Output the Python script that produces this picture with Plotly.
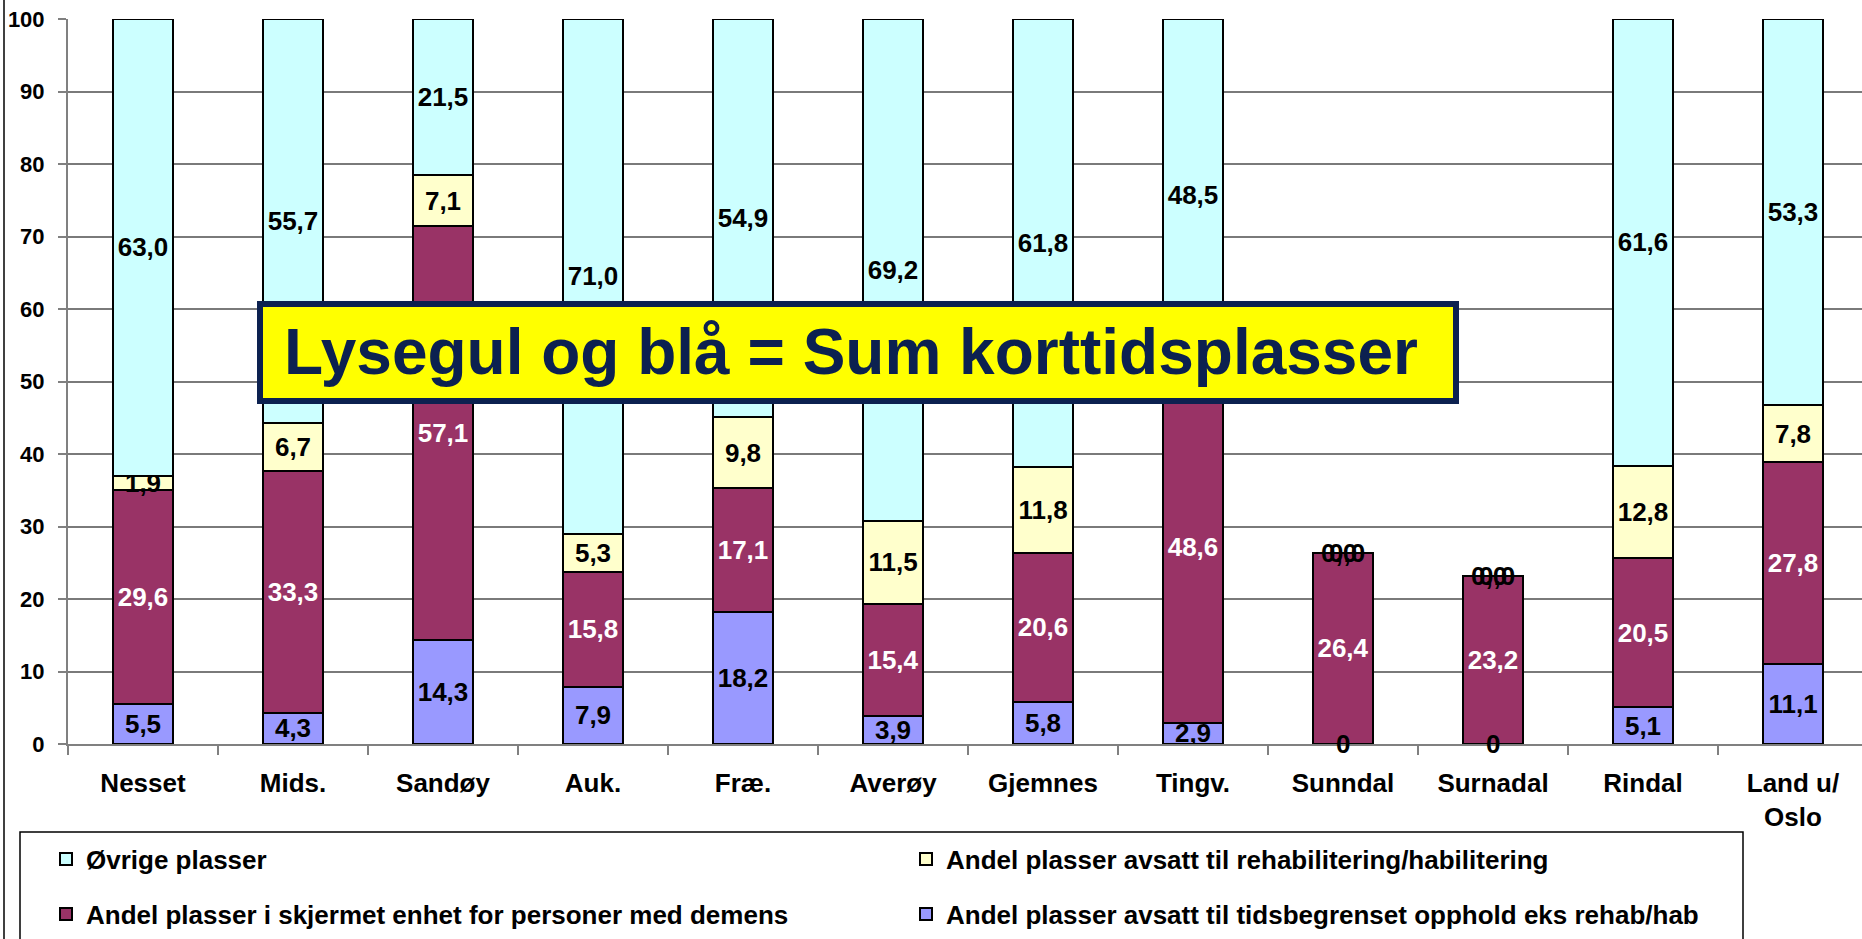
import plotly.graph_objects as go

# ---------------- data ----------------
categories = ["Nesset", "Mids.", "Sandøy", "Auk.", "Fræ.", "Averøy", "Gjemnes",
              "Tingv.", "Sunndal", "Surnadal", "Rindal", "Land u/<br>Oslo"]
tidsbegrenset = [5.5, 4.3, 14.3, 7.9, 18.2, 3.9, 5.8, 2.9, 0, 0, 5.1, 11.1]
demens = [29.6, 33.3, 57.1, 15.8, 17.1, 15.4, 20.6, 48.6, 26.4, 23.2, 20.5, 27.8]
rehab = [1.9, 6.7, 7.1, 5.3, 9.8, 11.5, 11.8, 0, 0, 0, 12.8, 7.8]
ovrige = [63.0, 55.7, 21.5, 71.0, 54.9, 69.2, 61.8, 48.5, 0, 0, 61.6, 53.3]
y_ticks = [0, 10, 20, 30, 40, 50, 60, 70, 80, 90, 100]
zero_label_categories = ["Sunndal", "Surnadal"]

names = {
    "ovrige": "Øvrige plasser",
    "rehab": "Andel plasser avsatt til rehabilitering/habilitering",
    "demens": "Andel plasser i skjermet enhet for personer med demens",
    "tids": "Andel plasser avsatt til tidsbegrenset opphold eks rehab/hab",
}
callout_text = "Lysegul og blå = Sum korttidsplasser"

# ---------------- styling ----------------
W, H = 1862, 939
L, T = 68, 19
Y0PX = 744
PLOT_H = Y0PX - T
PLOT_W = W - L
FONT = "Liberation Sans, Arial, sans-serif"
CAT_W = 150.0


def px_x(p):
    return (p - L) / PLOT_W


def px_y(p):
    return (Y0PX - p) / PLOT_H


def fmt(v):
    return ("%.1f" % v).replace(".", ",")


def labels(vals):
    return [fmt(v) if v != 0 else "" for v in vals]


fig = go.Figure()
series = [
    ("tids", tidsbegrenset, "#9999FF", "black", "legend2"),
    ("demens", demens, "#993366", "white", "legend2"),
    ("rehab", rehab, "#FFFFCC", "black", "legend"),
    ("ovrige", ovrige, "#CCFFFF", "black", "legend"),
]
for key, vals, col, tcol, leg in series:
    fig.add_trace(go.Bar(
        x=categories, y=vals, name=names[key],
        marker=dict(color=col, line=dict(color="black", width=2)),
        text=labels(vals), textposition="inside", insidetextanchor="middle",
        textangle=0, constraintext="none",
        insidetextfont=dict(family=FONT, size=26, color=tcol, weight="bold"),
        legend=leg, hoverinfo="skip",
    ))

# zero-value labels (drawn at the segment position)
annotations = []
for i, c in enumerate(categories):
    if c not in zero_label_categories:
        continue
    base = 0.0
    for key, vals, col, tcol, leg in series:
        if vals[i] == 0:
            txt = "0" if key == "tids" else "0,0"
            shift = {"tids": 0, "demens": 0, "rehab": -4, "ovrige": 4}[key]
            annotations.append(dict(
                x=c, y=base, xref="x", yref="y", text=txt, showarrow=False,
                xshift=shift, font=dict(family=FONT, size=26, color="black", weight="bold"),
                xanchor="center", yanchor="middle"))
        base += vals[i]

# callout box
box_x0, box_x1, box_y0, box_y1 = 260, 1456, 304, 401
annotations.append(dict(
    x=px_x(282), y=px_y(352), xref="paper", yref="paper", text=callout_text,
    showarrow=False, xanchor="left", yanchor="middle",
    font=dict(family=FONT, size=64, color="#0C2150", weight="bold")))

shapes = [
    dict(type="rect", xref="paper", yref="paper", layer="above",
         x0=px_x(box_x0), x1=px_x(box_x1), y0=px_y(box_y1), y1=px_y(box_y0),
         fillcolor="#FFFF00", line=dict(color="#0C2150", width=6)),
    # legend frame
    dict(type="rect", xref="paper", yref="paper", layer="above",
         x0=px_x(20), x1=px_x(1743), y0=px_y(980), y1=px_y(832),
         fillcolor="rgba(0,0,0,0)", line=dict(color="black", width=1.5)),
    # outer chart-area left border
    dict(type="line", xref="paper", yref="paper", layer="above",
         x0=px_x(4), x1=px_x(4), y0=px_y(-5), y1=px_y(990),
         line=dict(color="black", width=1.5)),
]

legend_common = dict(
    orientation="h", xanchor="left", yanchor="middle",
    bgcolor="rgba(0,0,0,0)", borderwidth=0, entrywidth=815, entrywidthmode="pixels",
    font=dict(family=FONT, size=26, color="black", weight="bold"),
    traceorder="reversed", itemclick=False, itemdoubleclick=False,
)

fig.update_layout(
    width=W, height=H,
    margin=dict(l=L, r=W - L - PLOT_W, t=T, b=H - Y0PX, pad=0),
    paper_bgcolor="white", plot_bgcolor="white",
    barmode="stack", bargap=0.6,
    showlegend=True,
    legend=dict(x=px_x(46), y=px_y(859), **legend_common),
    legend2=dict(x=px_x(46), y=px_y(914), **legend_common),
    annotations=annotations, shapes=shapes,
    xaxis=dict(
        range=[-0.5, -0.5 + PLOT_W / CAT_W], showgrid=False,
        showline=True, linecolor="#808080", linewidth=2,
        ticks="outside", tickson="boundaries", ticklen=9, tickcolor="#808080", tickwidth=2,
        tickfont=dict(family=FONT, size=26, color="black", weight="bold"),
        ticklabelstandoff=15, fixedrange=True,
    ),
    yaxis=dict(
        range=[0, 100], tickvals=y_ticks, ticktext=[str(v) for v in y_ticks],
        showgrid=True, gridcolor="#7a7a7a", gridwidth=1.5,
        showline=True, linecolor="#808080", linewidth=2,
        ticks="outside", ticklen=8, tickcolor="#808080", tickwidth=2,
        tickfont=dict(family=FONT, size=22, color="black", weight="bold"),
        ticklabelstandoff=9, zeroline=False, fixedrange=True,
    ),
)

fig.write_html("out.html", config={"displayModeBar": False},
               post_script="document.body.style.margin='0';document.body.style.overflow='hidden';")
